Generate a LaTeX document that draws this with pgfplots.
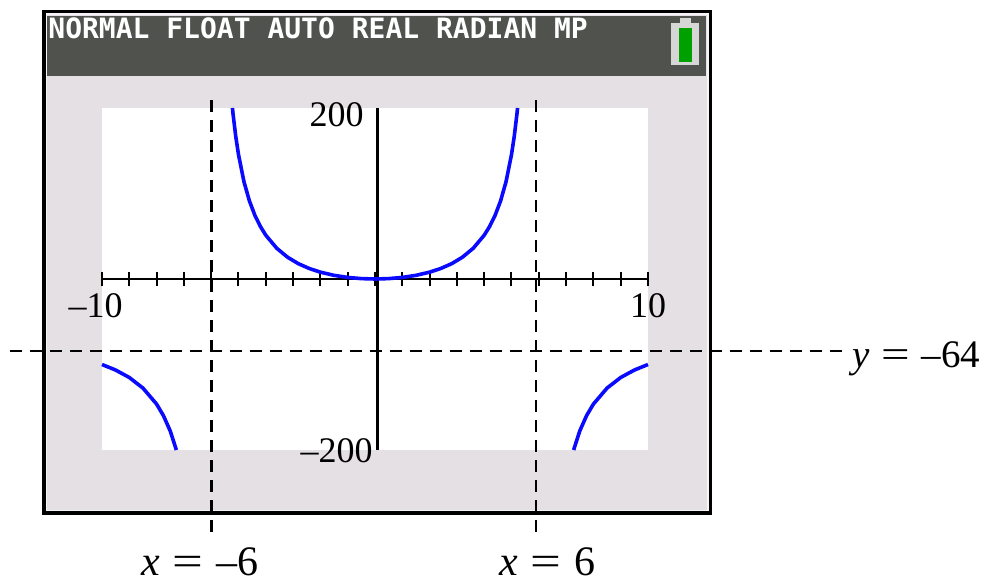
\documentclass[border=0pt]{standalone}
\usepackage{pgfplots}
\pgfplotsset{compat=1.18}
\usepackage{fontspec}
\setmainfont{Liberation Serif}
\newfontfamily\calcfont{DejaVu Sans Mono}
\newcommand{\eqsign}{\hspace{0.3em}\scalebox{1.3}[1]{=}\hspace{0.3em}}

\definecolor{screen}{RGB}{228,224,228}
\definecolor{screenedge}{RGB}{246,244,246}
\definecolor{header}{RGB}{80,82,78}
\definecolor{batgreen}{RGB}{0,160,0}
\definecolor{batshell}{RGB}{214,214,214}
\definecolor{curve}{RGB}{10,10,255}

% y = 64x^2/(36 - x^2): middle branch and the two outer branches
\pgfplotstableread{
x      y
-5.222 200
-5.2   193.1
-5.1   166.6
-5.0   145.5
-4.8   113.8
-4.6   91.3
-4.4   74.5
-4.2   61.5
-4.0   51.2
-3.6   36.0
-3.2   25.4
-2.8   17.8
-2.4   12.2
-2.0   8.0
-1.5   4.27
-1.0   1.83
-0.5   0.45
0      0
0.5    0.45
1.0    1.83
1.5    4.27
2.0    8.0
2.4    12.2
2.8    17.8
3.2    25.4
3.6    36.0
4.0    51.2
4.2    61.5
4.4    74.5
4.6    91.3
4.8    113.8
5.0    145.5
5.1    166.6
5.2    193.1
5.222  200
}\middlebranch
\pgfplotstableread{
x      y
-10    -100
-9.5   -106.5
-9.0   -115.2
-8.5   -127.6
-8.0   -146.3
-7.75  -159.8
-7.5   -177.8
-7.276 -200
}\leftbranch
\pgfplotstableread{
x      y
7.276  -200
7.5    -177.8
7.75   -159.8
8.0    -146.3
8.5    -127.6
9.0    -115.2
9.5    -106.5
10     -100
}\rightbranch

\begin{document}
\begin{tikzpicture}
\path[use as bounding box] (0,0) rectangle (496.5pt,-291.5pt);

% calculator screen (units: one step = 0.5pt, y grows downward)
\begin{scope}[x=0.5pt,y=-0.5pt]
  \fill[screenedge] (44,12) rectangle (710,513);
  \fill[screen] (47,15.5) rectangle (707,510);
  \draw[line width=1.75pt] (43.75,11.75) rectangle (710.25,513.25);
  \fill[header] (47,16) rectangle (706,76);
  \node[anchor=base west, text=white, inner sep=0,
        font=\calcfont\bfseries\fontsize{14pt}{14pt}\selectfont]
        at (48,39) {NORMAL FLOAT AUTO REAL RADIAN MP};
  % battery
  \fill[batshell] (671,23) rectangle (699,65);
  \fill[batshell] (680,18) rectangle (691,24);
  \fill[batgreen] (679,28) rectangle (692,62);
  % graph window
  \fill[white] (102,108) rectangle (648,450);
\end{scope}

\begin{axis}[
  at={(51pt,-225pt)}, anchor=south west,
  scale only axis, width=273pt, height=171pt,
  xmin=-10, xmax=10, ymin=-200, ymax=200,
  hide axis, clip=false]
  \draw[line width=1pt] (axis cs:-10,0) -- (axis cs:10,0);
  \pgfplotsinvokeforeach{-10,...,10}{
    \draw[line width=1pt] (axis cs:#1,0) ++(0pt,-3.5pt) -- ++(0pt,7pt);
  }
  \draw[line width=1.5pt] (axis cs:0.1,-200) -- (axis cs:0.1,200);
  \addplot[curve, line width=1.8pt] table {\middlebranch};
  \addplot[curve, line width=1.8pt] table {\leftbranch};
  \addplot[curve, line width=1.8pt] table {\rightbranch};
\end{axis}

% asymptotes and labels
\begin{scope}[x=0.5pt,y=-0.5pt, every node/.style={inner sep=0}]
  \draw[line width=1.1pt, dash pattern=on 6pt off 4pt] (211.5,100) -- (211.5,537);
  \draw[line width=1.1pt, dash pattern=on 6pt off 4pt] (536,100) -- (536,537);
  \draw[line width=1.1pt, dash pattern=on 6pt off 4pt] (10,351) -- (846,351);
  \begin{scope}[every node/.append style={font=\fontsize{18pt}{20pt}\selectfont}]
    \node[anchor=base east] at (364,127) {200};
    \node[anchor=base east] at (373,463) {–200};
    \node[anchor=base east] at (123,318) {–10};
    \node[anchor=base] at (648,318) {10};
  \end{scope}
  \node[anchor=base west, font=\fontsize{19.5pt}{21pt}\selectfont] at (852,368)
    {\textit{y}\eqsign–64};
  \node[anchor=base west, font=\fontsize{21pt}{23pt}\selectfont] at (141,575)
    {\textit{x}\eqsign–6};
  \node[anchor=base west, font=\fontsize{21pt}{23pt}\selectfont] at (499,575)
    {\textit{x}\eqsign6};
\end{scope}
\end{tikzpicture}
\end{document}
